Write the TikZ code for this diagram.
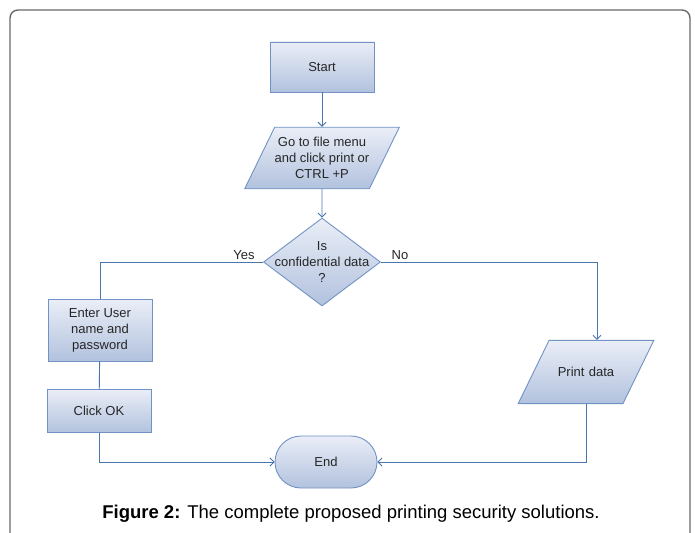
\documentclass[tikz,border=0pt]{standalone}
\usepackage{fontspec}
\setmainfont{Liberation Sans}
\usepackage{xcolor}
\usepackage{tikz}
\usetikzlibrary{
  arrows.meta,
  calc,
  positioning,
  shapes.geometric,
  shapes.misc
}
\definecolor{flowline}{RGB}{74,116,172}
\definecolor{boxtop}{RGB}{234,238,247}
\definecolor{boxbot}{RGB}{178,194,222}
\definecolor{boxline}{RGB}{112,146,196}
\definecolor{framegray}{RGB}{105,105,105}
\tikzset{
  block/.style={
    draw=boxline,
    top color=boxtop,
    bottom color=boxbot,
    line width=0.9pt,
    text=black!85,
    font=\fontsize{13}{16}\selectfont,
    align=center,
    inner sep=1pt},
  proc/.style={block, rectangle, minimum width=104pt, minimum height=50pt},
  io/.style={block, trapezium, trapezium left angle=64, trapezium right angle=116},
  dec/.style={block, diamond, minimum width=117pt, minimum height=88pt},
  term/.style={block, rounded rectangle, minimum width=104pt, minimum height=52pt},
  flow/.style={draw=flowline, line width=0.9pt, -{Straight Barb[length=4pt,width=8pt]}},
  link/.style={draw=flowline, line width=0.9pt},
  lbl/.style={font=\fontsize{13}{16}\selectfont, text=black!85}
  }

\begin{document}
\begin{tikzpicture}[x=1pt,y=-1pt]
    \clip (0,0) rectangle (695,532);
    \draw [framegray, line width=1.4pt, rounded corners=8pt] (10,10) rectangle (690,580);
    \node [proc] (start) at (322,67) {Start};
    \node [io, inner xsep=0pt, inner ysep=10pt] (menu) at (322,158)
      {Go to file menu\\and click print or\\CTRL +P};
    \node [dec, label={[lbl, align=center]center:Is\\confidential data\\?}] (conf) at (322,262) {};
    \node [proc, minimum height=62pt] (login) at (100,330) {Enter User\\name and\\password};
    \node [proc, minimum height=43pt] (ok) at (99,411) {Click OK};
    \node [io, text width=72pt, inner ysep=26.8pt] (print) at (586,372) {Print data};
    \node [term] (end) at (326,462) {End};
    \node [lbl] (yes) at (244,255) {Yes};
    \node [lbl] (no) at (400,255) {No};
    \node [font=\fontsize{18.5}{20}\selectfont] (cap) at (351,514)
      {\textbf{Figure 2:} The complete proposed printing security solutions.};
    \draw [flow] (start) -- (menu);
    \draw [flow] (menu) -- (conf);
    \draw [link] (conf.west) -| (login.north);
    \draw [link] (login) -- (ok);
    \draw [flow] (ok.south) |- (end.west);
    \draw [flow] (conf.east) -| ([xshift=11pt]print.north);
    \draw [flow] (print.south) |- (end.east);
\end{tikzpicture}
\end{document}
